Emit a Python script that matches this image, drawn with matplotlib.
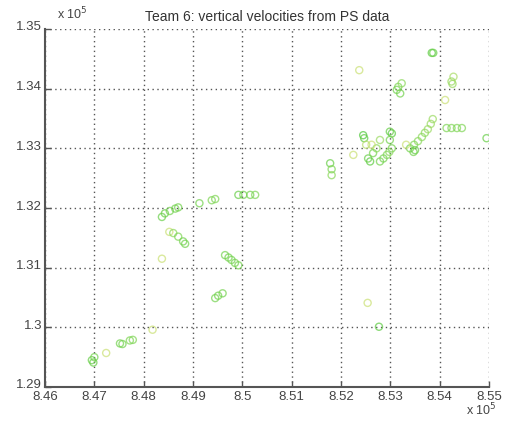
import matplotlib
matplotlib.use("Agg")
import matplotlib.pyplot as plt
import matplotlib.transforms as mtransforms
from matplotlib.colors import LinearSegmentedColormap

plt.rcParams['font.family'] = ['Liberation Sans', 'DejaVu Sans']

# Easting (x 1e5), Northing (x 1e5), tone (0 = green, 1 = yellow)
east = [8.4695, 8.4700, 8.4698, 8.4724, 8.4752, 8.4757, 8.4772, 8.4778, 8.4818, 8.4837,
        8.4837, 8.4843, 8.4853, 8.4864, 8.4870, 8.4852, 8.4860, 8.4870, 8.4880, 8.4884,
        8.4913, 8.4938, 8.4945, 8.4992, 8.5002, 8.5016, 8.5026,
        8.4965, 8.4972, 8.4978, 8.4985, 8.4992, 8.4945, 8.4951, 8.4960,
        8.5178, 8.5181, 8.5181, 8.5237, 8.5384, 8.5387, 8.5316, 8.5313, 8.5320, 8.5323,
        8.5428, 8.5424, 8.5426, 8.5411, 8.5414, 8.5424, 8.5435, 8.5445, 8.5495,
        8.5340, 8.5348, 8.5356, 8.5364, 8.5370, 8.5376, 8.5382, 8.5386, 8.5332, 8.5350, 8.5347,
        8.5245, 8.5247, 8.5303, 8.5299, 8.5299, 8.5303, 8.5259, 8.5255, 8.5265, 8.5272,
        8.5225, 8.5262, 8.5279, 8.5286, 8.5293, 8.5298, 8.5251, 8.5279,
        8.5254, 8.5277]
north = [1.2945, 1.2950, 1.2941, 1.2957, 1.2973, 1.2972, 1.2978, 1.2979, 1.2996, 1.3115,
         1.3185, 1.3191, 1.3195, 1.3199, 1.3201, 1.3160, 1.3158, 1.3152, 1.3144, 1.3140,
         1.3208, 1.3213, 1.3215, 1.3222, 1.3222, 1.3222, 1.3222,
         1.3121, 1.3117, 1.3113, 1.3108, 1.3104, 1.3049, 1.3053, 1.3057,
         1.3275, 1.3265, 1.3255, 1.3431, 1.3460, 1.3460, 1.3403, 1.3398, 1.3392, 1.3409,
         1.3420, 1.3412, 1.3408, 1.3381, 1.3334, 1.3334, 1.3334, 1.3334, 1.3317,
         1.3300, 1.3306, 1.3312, 1.3319, 1.3326, 1.3332, 1.3341, 1.3349, 1.3306, 1.3297, 1.3294,
         1.3322, 1.3317, 1.3325, 1.3328, 1.3314, 1.3300, 1.3278, 1.3283, 1.3292, 1.3300,
         1.3289, 1.3306, 1.3278, 1.3283, 1.3289, 1.3294, 1.3306, 1.3314,
         1.3041, 1.3001]
tone = [0.2, 0.3, 0.2, 0.9, 0.3, 0.3, 0.4, 0.4, 0.9, 0.9,
        0.2, 0.2, 0.3, 0.3, 0.3, 0.9, 0.5, 0.4, 0.3, 0.3,
        0.3, 0.4, 0.4, 0.2, 0.3, 0.3, 0.4,
        0.3, 0.3, 0.3, 0.3, 0.3, 0.3, 0.3, 0.3,
        0.2, 0.4, 0.5, 0.9, 0.1, 0.2, 0.4, 0.3, 0.3, 0.5,
        0.7, 0.6, 0.6, 0.9, 0.4, 0.4, 0.4, 0.4, 0.2,
        0.3, 0.4, 0.5, 0.5, 0.5, 0.6, 0.6, 0.6, 0.9, 0.2, 0.3,
        0.0, 0.1, 0.1, 0.2, 0.3, 0.3, 0.1, 0.2, 0.3, 0.5,
        0.9, 0.9, 0.3, 0.3, 0.4, 0.5, 0.8, 0.6,
        0.9, 0.1]

xticks = [8.46, 8.47, 8.48, 8.49, 8.50, 8.51, 8.52, 8.53, 8.54, 8.55]
xticklabels = ['8.46', '8.47', '8.48', '8.49', '8.5', '8.51', '8.52', '8.53', '8.54', '8.55']
yticks = [1.29, 1.30, 1.31, 1.32, 1.33, 1.34, 1.35]
yticklabels = ['1.29', '1.3', '1.31', '1.32', '1.33', '1.34', '1.35']

cmap = LinearSegmentedColormap.from_list('gy', ['#4fc83a', '#8ad85a', '#d9e27a'])

fig = plt.figure(figsize=(5.1, 4.3), dpi=100)
ax = fig.add_axes([45 / 510, 43 / 430, 444 / 510, 358 / 430])

ax.scatter(east, north, s=26, facecolors='none', edgecolors=cmap(tone),
           linewidths=1.0, alpha=0.7, zorder=3)

ax.set_xlim(8.46, 8.55)
ax.set_ylim(1.29, 1.35)
ax.set_xticks(xticks)
ax.set_xticklabels(xticklabels)
ax.set_yticks(yticks)
ax.set_yticklabels(yticklabels)
ax.grid(True, linestyle=(0, (1, 2.5)), color='#555555', linewidth=1.0, zorder=1)
ax.set_axisbelow(True)

for s in ['top', 'right']:
    ax.spines[s].set_visible(False)
for s in ['left', 'bottom']:
    ax.spines[s].set_color('#555555')
    ax.spines[s].set_linewidth(1.5)

ax.tick_params(direction='in', length=4, width=1, color='#555555',
               labelsize=9.5, labelcolor='#444444', pad=2)

up = mtransforms.ScaledTranslation(0, 3 / 100, fig.dpi_scale_trans)
for lab in ax.get_yticklabels():
    lab.set_transform(lab.get_transform() + up)
down = mtransforms.ScaledTranslation(0, -1 / 100, fig.dpi_scale_trans)
for lab in ax.get_xticklabels():
    lab.set_transform(lab.get_transform() + down)

ax.set_title('Team 6: vertical velocities from PS data', fontsize=10, color='#333333', pad=6)
fig.text(57 / 510, 1 - 14 / 430, r'x 10$^5$', fontsize=9, color='#444444', va='center')
fig.text(466 / 510, 1 - 410 / 430, r'x 10$^5$', fontsize=9, color='#444444', va='center')

fig.savefig('out.png', dpi=100, facecolor='white')
